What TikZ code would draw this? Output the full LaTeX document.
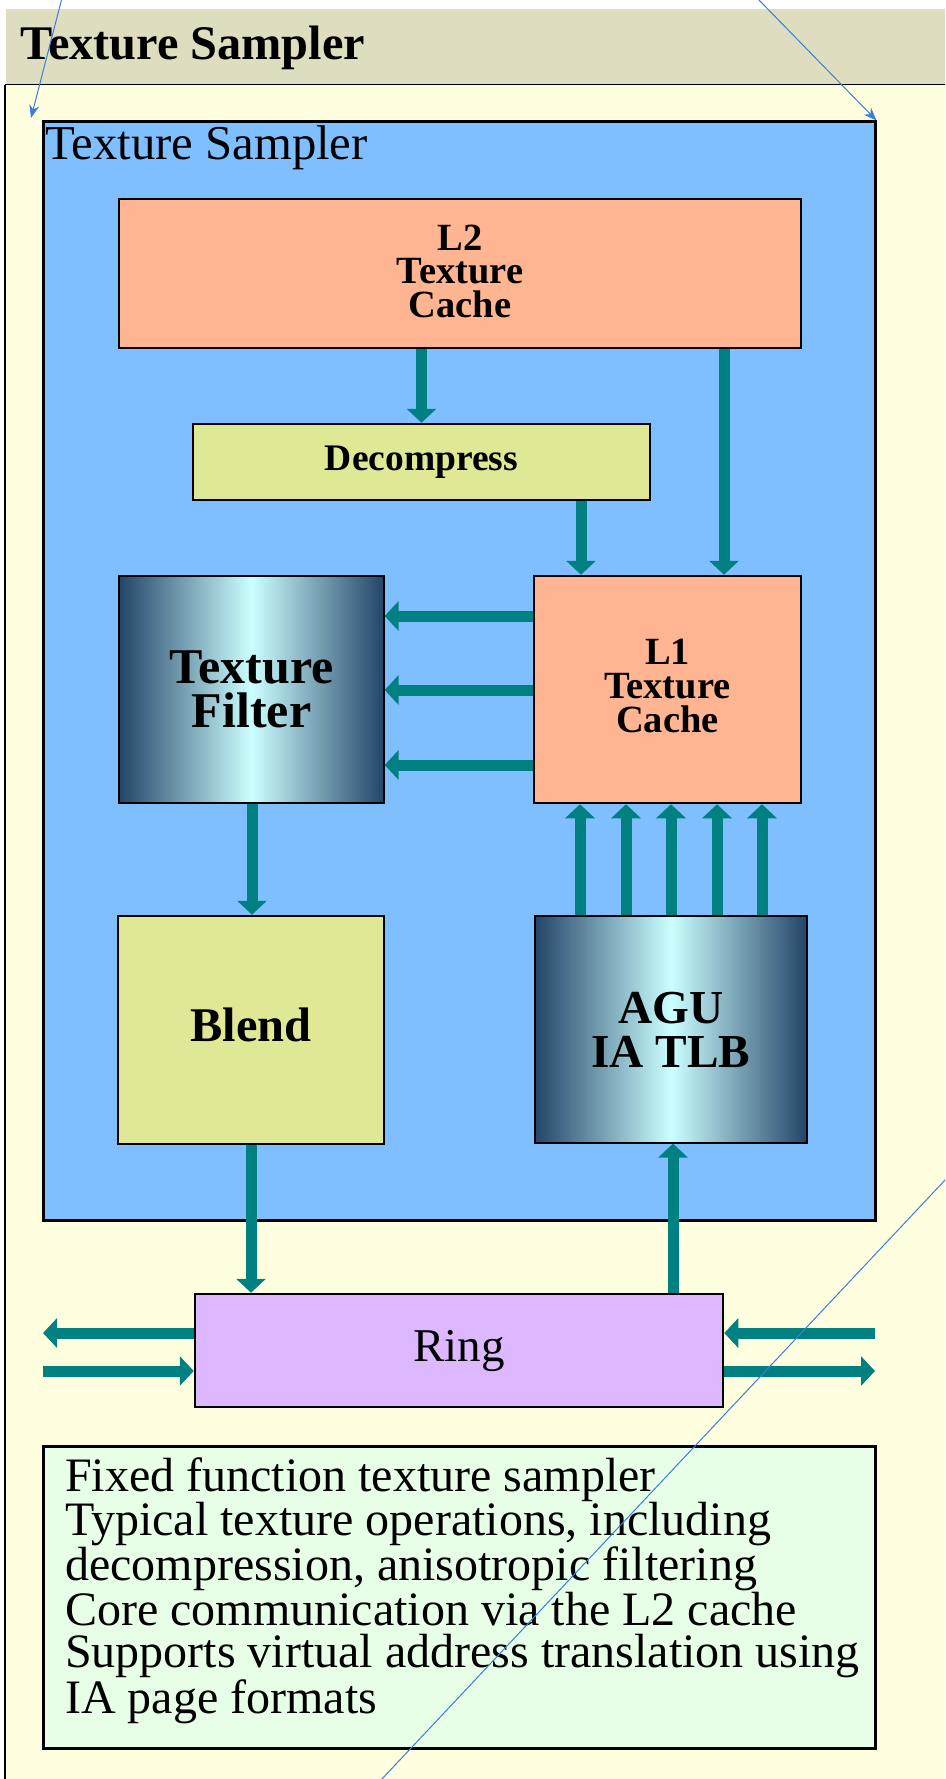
\documentclass[tikz,border=0pt]{standalone}
\usepackage{fontspec}
\setmainfont{Liberation Serif}
\usetikzlibrary{arrows.meta}
\definecolor{titlebar}{RGB}{222,221,192}
\definecolor{bgyellow}{RGB}{255,255,224}
\definecolor{skyblue}{RGB}{128,191,255}
\definecolor{salmon}{RGB}{255,181,145}
\definecolor{paleolive}{RGB}{224,232,150}
\definecolor{tealc}{RGB}{0,128,128}
\definecolor{lavender}{RGB}{221,184,255}
\definecolor{mint}{RGB}{230,255,230}
\definecolor{annot}{RGB}{59,125,221}
\definecolor{gdark}{RGB}{35,68,104}
\definecolor{glight}{RGB}{204,255,255}
\newcommand{\dropby}[1]{\rule[-#1]{0pt}{#1}}
\begin{document}
\begin{tikzpicture}[x=1pt,y=-1pt,
  box/.style={draw=black, line width=2.5pt, rectangle, inner sep=0pt, align=center},
  smallbold/.style={font=\fontsize{38.5}{33.5}\selectfont\bfseries},
  gradbox/.style={box, line width=1.2pt, left color=gdark, right color=gdark, middle color=glight},
  arr/.style={draw=tealc, line width=11pt, -{Triangle[width=29pt,length=14pt]}},
  annotarrow/.style={draw=annot, line width=1pt, -{Stealth[length=13pt,width=10pt]}},
  annotline/.style={draw=annot, line width=1pt}
]
\useasboundingbox (0,0) rectangle (945,1779);
\begin{scope}
\clip (0,0) rectangle (945,1779);
\fill[white] (0,0) rectangle (945,1779);
\fill[titlebar] (6,9) rectangle (950,85);
\filldraw[fill=bgyellow, draw=black, line width=1pt] (5,85) rectangle (960,1800);
\draw[line width=2pt] (5,85) -- (5,1790);

\node[anchor=base west, inner sep=0pt, font=\fontsize{48.3}{48}\selectfont\bfseries] (title) at (20,60) {Texture Sampler};

% big blue container
\node[box, line width=3pt, fill=skyblue, minimum width=832pt, minimum height=1098pt] (ts) at (459,671) {};
\node[anchor=base west, inner sep=0pt, font=\fontsize{48.7}{48}\selectfont] (tslabel) at (45,160) {Texture Sampler};

\node[box, fill=salmon, smallbold, minimum width=682pt, minimum height=149pt] (l2) at (460,273.5) {L2\\Texture\\Cache\dropby{4.5pt}};
\node[box, fill=paleolive, font=\fontsize{37.5}{37}\selectfont\bfseries, minimum width=457pt, minimum height=76pt] (dec) at (421.5,462) {Decompress};
\node[gradbox, font=\fontsize{50}{44}\selectfont\bfseries, minimum width=265pt, minimum height=227pt] (tf) at (251.5,689.5) {Texture\\Filter};
\node[box, fill=salmon, font=\fontsize{38.5}{34}\selectfont\bfseries, minimum width=267pt, minimum height=227pt] (l1) at (667.5,689.5) {L1\\Texture\\Cache\dropby{7pt}};
\node[box, fill=paleolive, font=\fontsize{48.4}{48}\selectfont\bfseries, minimum width=266pt, minimum height=228pt] (blend) at (251,1030) {Blend\dropby{11pt}};
\node[gradbox, font=\fontsize{47.3}{44}\selectfont\bfseries, minimum width=272pt, minimum height=227pt] (agu) at (671,1029.5) {AGU\\IA TLB};
\node[box, fill=lavender, font=\fontsize{47}{47}\selectfont, minimum width=528pt, minimum height=113pt] (ring) at (459,1350.5) {Ring};

\node[box, line width=3pt, fill=mint, minimum width=832pt, minimum height=302pt] (notes) at (459,1597) {};
\node[anchor=north west, inner sep=0pt, align=left, font=\fontsize{48}{42.5}\selectfont] (notestext) at (65,1457)
  {Fixed function texture sampler\\Typical texture operations, including\\decompression, anisotropic filtering\\Core communication via the L2 cache\\Supports virtual address translation using\\IA page formats};

% connectors
\draw[arr] (l2.south -| dec.north) -- (dec.north);
\draw[arr] (l2.south -| 724,0) -- (l1.north -| 724,0);
\draw[arr] (dec.south -| 581,0) -- (l1.north -| 581,0);
\foreach \yy in {616,690,765} \draw[arr] (l1.west |- 0,\yy) -- (tf.east |- 0,\yy);
\draw[arr] (tf.south -| 252,0) -- (blend.north -| 252,0);
\foreach \xx in {580,626,671,717,762} \draw[arr] (agu.north -| \xx,0) -- (l1.south -| \xx,0);
\draw[arr] (blend.south -| 251,0) -- (ring.north -| 251,0);
\draw[arr] (ring.north -| 673,0) -- (agu.south -| 673,0);
\coordinate (wl) at (43,1333);
\coordinate (wr) at (43,1371);
\coordinate (el) at (875,1333);
\coordinate (er) at (875,1371);
\draw[arr] (ring.west |- wl) -- (wl);
\draw[arr] (wr) -- (ring.west |- wr);
\draw[arr] (el) -- (ring.east |- el);
\draw[arr] (ring.east |- er) -- (er);

% annotation lines
\coordinate (a1s) at (62,-2);
\coordinate (a1e) at (31,118);
\coordinate (a2s) at (757,-2);
\coordinate (a3s) at (946,1179);
\coordinate (a3e) at (381,1780);
\draw[annotarrow] (a1s) -- (a1e);
\draw[annotarrow] (a2s) -- (ts.north east);
\draw[annotline] (a3s) -- (a3e);
\end{scope}
\end{tikzpicture}
\end{document}
